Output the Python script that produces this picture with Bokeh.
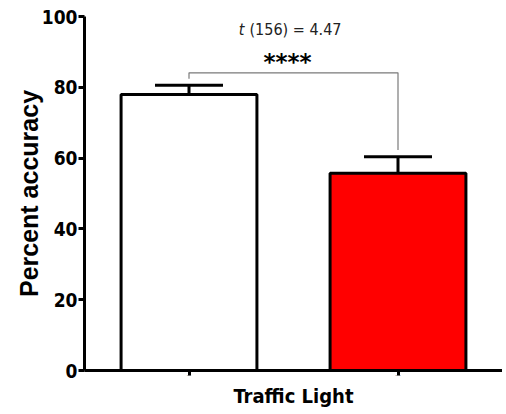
from bokeh.plotting import figure
from bokeh.models import ColumnDataSource, FactorRange, Range1d, FixedTicker, Whisker, TeeHead
from bokeh.core.properties import value
from bokeh.embed import file_html
from bokeh.resources import INLINE

# ---- data ----
categories = ["Standard", "Traffic Light"]
accuracy = [78.0, 55.7]
sem = [2.6, 4.7]
bar_colors = ["#FFFFFF", "#FF0000"]
y_ticks = [0, 20, 40, 60, 80, 100]

bracket_x = ["Standard", "Standard", "Traffic Light", "Traffic Light"]
bracket_y = [82.4, 84.1, 84.1, 62.3]
stat_label = "(156) = 4.47"
stat_italic = "t"
stat_y = 96.2
stars = "****"
stars_y = 88.0
y_title = "Percent accuracy"
x_title = "Traffic Light"

COND = "DejaVu Sans Condensed"
WIDE = "Liberation Sans"
STAR = "DejaVu Sans"

src = ColumnDataSource(dict(
    cat=categories,
    acc=accuracy,
    upper=[a + s for a, s in zip(accuracy, sem)],
    color=bar_colors,
))

p = figure(
    width=502, height=410,
    x_range=FactorRange(factors=categories, range_padding=0),
    y_range=Range1d(0, 100),
    output_backend="svg", toolbar_location=None,
    min_border_left=84, min_border_right=0, min_border_top=16, min_border_bottom=39,
)
p.outline_line_color = None
p.xgrid.grid_line_color = None
p.ygrid.grid_line_color = None
p.background_fill_color = "white"
p.border_fill_color = "white"

p.vbar(x="cat", top="acc", bottom=0, width=0.65, source=src,
       fill_color="color", line_color="black", line_width=3)

p.add_layout(Whisker(base="cat", upper="upper", lower="acc", source=src,
                     line_color="black", line_width=3,
                     upper_head=TeeHead(size=68, line_width=3, line_color="black"),
                     lower_head=None))

# significance bracket
p.line(x=bracket_x, y=bracket_y, line_color="#7a7a7a", line_width=1.2)

# annotations (placed midway between the two bars)
p.text(x=[1.0], y=[stat_y], text=[stat_label], text_align="left", text_baseline="middle",
       x_offset=-44, text_font=value(COND), text_font_size="16px", text_color="#222222")
p.text(x=[1.0], y=[stat_y], text=[stat_italic], text_align="right", text_baseline="middle",
       x_offset=-49, text_font=value(COND), text_font_style="italic",
       text_font_size="16px", text_color="#222222")
p.text(x=[1.0], y=[stars_y], text=[stars], text_align="center", text_baseline="middle",
       x_offset=-6, y_offset=3, text_font=value(STAR), text_font_style="bold",
       text_font_size="23px", text_color="black")

# y axis
ya = p.yaxis[0]
ya.ticker = FixedTicker(ticks=y_ticks)
ya.axis_label = y_title
ya.axis_label_text_font = WIDE
ya.axis_label_text_font_style = "bold"
ya.axis_label_text_font_size = "25px"
ya.axis_label_text_color = "black"
ya.axis_label_standoff = -4
ya.major_label_text_font = COND
ya.major_label_text_font_style = "bold"
ya.major_label_text_font_size = "19px"
ya.major_label_text_color = "black"
ya.major_label_standoff = 1
ya.axis_line_width = 3
ya.major_tick_line_width = 3
ya.major_tick_out = 6
ya.major_tick_in = 0
ya.minor_tick_line_color = None

# x axis
xa = p.xaxis[0]
xa.axis_label = x_title
xa.axis_label_text_font = COND
xa.axis_label_text_font_style = "bold"
xa.axis_label_text_font_size = "20px"
xa.axis_label_text_color = "black"
xa.axis_label_standoff = 4
xa.major_label_overrides = {c: "" for c in categories}
xa.major_label_text_font_size = "1px"
xa.major_label_standoff = 0
xa.axis_line_width = 3
xa.major_tick_line_width = 3
xa.major_tick_out = 5
xa.major_tick_in = 0

open("out.html", "w").write(file_html(p, INLINE))
